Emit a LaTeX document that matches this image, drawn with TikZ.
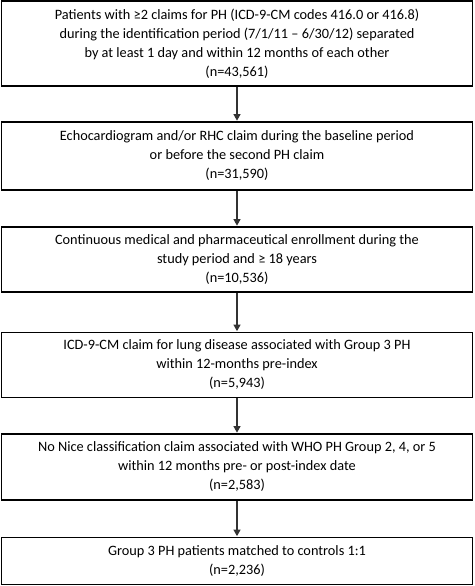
\documentclass[tikz,border=0pt]{standalone}
\usepackage{fontspec}
\setmainfont{Carlito}
\usetikzlibrary{arrows.meta}
\begin{document}
\begin{tikzpicture}[x=1pt,y=-1pt,
  box/.style={draw=black, line width=1.7pt, minimum width=471pt, inner sep=0pt,
    align=center, font=\fontsize{14.3pt}{19pt}\selectfont, anchor=center},
  arr/.style={draw=black!80, line width=1.1pt, -{Triangle[width=7pt,length=6.5pt]}, shorten >=0.5pt}]
\useasboundingbox (0,0) rectangle (474,586);
\node[box, minimum height=85pt] (b1) at (237,43.5) {Patients with ≥2 claims for PH (ICD-9-CM codes 416.0 or 416.8)\\during the identification period (7/1/11 – 6/30/12) separated\\by at least 1 day and within 12 months of each other\\(n=43,561)};
\node[box, minimum height=68pt] (b2) at (237,156) {Echocardiogram and/or RHC claim during the baseline period\\or before the second PH claim\\(n=31,590)};
\node[box, minimum height=65pt] (b3) at (237,259.5) {Continuous medical and pharmaceutical enrollment during the\\study period and ≥ 18 years\\(n=10,536)};
\node[box, minimum height=65pt] (b4) at (237,365) {ICD-9-CM claim for lung disease associated with Group 3 PH\\within 12-months pre-index\\(n=5,943)};
\node[box, minimum height=66pt] (b5) at (237,467) {No Nice classification claim associated with WHO PH Group 2, 4, or 5\\within 12 months pre- or post-index date\\(n=2,583)};
\node[box, minimum height=47pt] (b6) at (237,561) {Group 3 PH patients matched to controls 1:1\\(n=2,236)};
\draw[arr] (b1.south) -- (b2.north);
\draw[arr] (b2.south) -- (b3.north);
\draw[arr] (b3.south) -- (b4.north);
\draw[arr] (b4.south) -- (b5.north);
\draw[arr] (b5.south) -- (b6.north);
\end{tikzpicture}
\end{document}
